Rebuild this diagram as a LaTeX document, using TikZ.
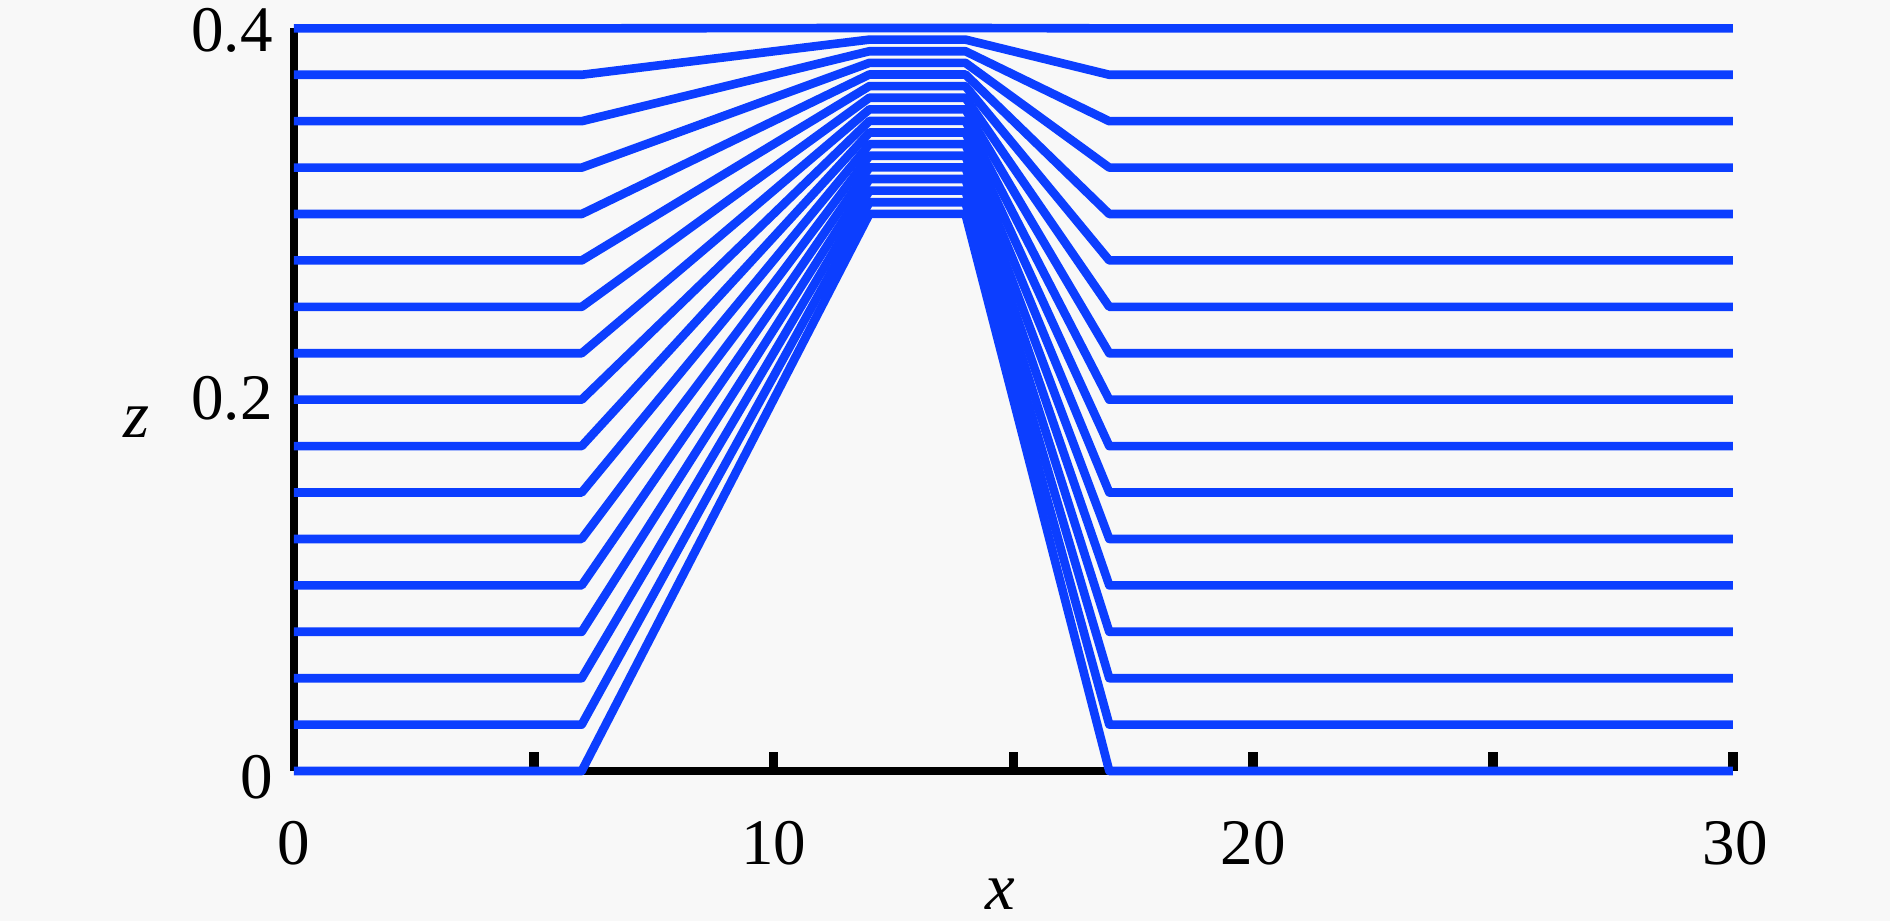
\documentclass[tikz,border=0pt]{standalone}
\usepackage{fontspec}
\setmainfont{Liberation Serif}
\definecolor{curveblue}{RGB}{12,62,255}
\definecolor{bgcol}{RGB}{248,248,248}
\begin{document}
\begin{tikzpicture}[x=0.02cm,y=0.02cm,
  ticklabel/.style={inner sep=0pt,font=\fontsize{37}{44}\selectfont},
  axislabel/.style={inner sep=0pt,font=\fontsize{38}{44}\selectfont\itshape},
  axisline/.style={black,line width=5pt},
  tickmark/.style={black,line width=5.5pt},
  curve/.style={curveblue,line width=4.9pt,line join=round}]
\fill[bgcol] (0,0) rectangle (1890,921);
\useasboundingbox (0,0) rectangle (1890,921);
\begin{scope}[shift={(5.88cm,3.0cm)},x=0.9594cm,y=37.15cm]
  % axes
  \draw[axisline] (0,0) -- (0,0.4);
  \draw[axisline] (0,0) -- (30,0);
  \foreach \t in {5,10,...,30} \draw[tickmark] (\t,0) -- (\t,0.0105);
  % curves
  \foreach \i in {0,...,16} {
    \pgfmathsetmacro{\zz}{\i*0.025}
    \pgfmathsetmacro{\zt}{0.3+\i*0.00625}
    \draw[curve] (0,\zz) -- (6,\zz) -- (12,\zt) -- (14,\zt) -- (17,\zz) -- (30,\zz);
  }
\end{scope}
% labels (pixel coordinates)
\node[ticklabel,anchor=east] (z04) at (273,891) {0.4};
\node[ticklabel,anchor=east] (z02) at (273,523) {0.2};
\node[ticklabel,anchor=east] (z00) at (273,144) {0};
\node[axislabel] (zlab) at (136,499) {z};
\node[ticklabel] (x0) at (294,78) {0};
\node[ticklabel] (x10) at (773.7,78) {10};
\node[ticklabel] (x20) at (1253.4,78) {20};
\node[ticklabel] (x30) at (1735,78) {30};
\node[axislabel] (xlab) at (1000,27) {x};
\end{tikzpicture}
\end{document}
